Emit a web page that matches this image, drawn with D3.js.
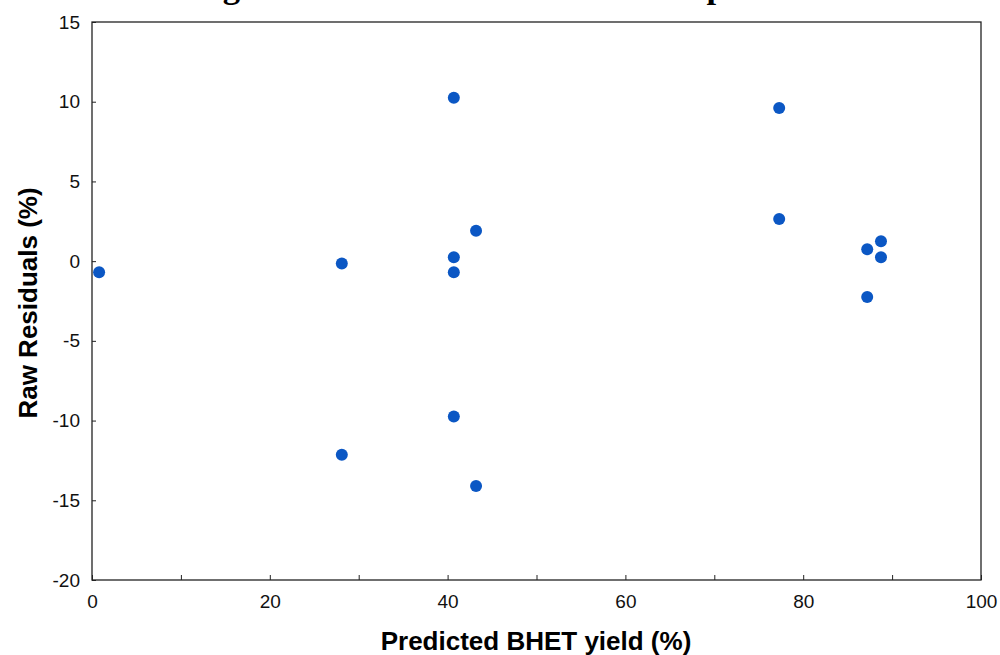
<!DOCTYPE html>
<html>
<head>
<meta charset="utf-8">
<script src="https://cdn.jsdelivr.net/npm/d3@7"></script>
<style>
  html, body { margin: 0; padding: 0; background: #fff; }
  svg { display: block; }
</style>
</head>
<body>
<svg id="chart" width="1000" height="655"></svg>
<script>
// Predicted BHET yield (%) and raw residuals (%) for each run
const predicted = [0.8, 28.1, 28.1, 40.7, 40.7, 40.7, 40.7, 43.2, 43.2, 77.3, 77.3, 87.2, 88.75, 88.75, 87.2];
const residuals = [-0.7, -0.15, -12.15, 10.25, 0.25, -0.7, -9.75, 1.9, -14.1, 9.6, 2.65, 0.75, 1.25, 0.25, -2.25];

const xTicks = [0, 20, 40, 60, 80, 100];
const xMinorTicks = [10, 30, 50, 70, 90];
const yTicks = [-20, -15, -10, -5, 0, 5, 10, 15];

const titleText = "Figure 4. Raw residuals versus the predicted values";
const xTitle = "Predicted BHET yield (%)";
const yTitle = "Raw Residuals (%)";

const svg = d3.select("#chart");
const plotLeft = 92, plotRight = 981, plotTop = 22, plotBottom = 580;

const x = d3.scaleLinear().domain([0, 100]).range([plotLeft, plotRight]);
const y = d3.scaleLinear().domain([-20, 15]).range([plotBottom, plotTop]);

// Title (runs off the top edge of the page; only its descenders show)
svg.append("text")
  .attr("x", 192).attr("y", -2)
  .attr("font-family", "Liberation Serif, Times New Roman, serif")
  .attr("font-weight", "bold")
  .attr("font-size", 34.6)
  .attr("fill", "#000")
  .text(titleText);

// Points
svg.append("g")
  .selectAll("circle")
  .data(predicted.map((p, i) => ({ p, r: residuals[i] })))
  .join("circle")
  .attr("cx", d => x(d.p))
  .attr("cy", d => y(d.r))
  .attr("r", 6)
  .attr("fill", "#0b57c4");

// Axes with inward ticks; labels use a plain hyphen for negatives
const axisFont = "Liberation Sans, Arial, sans-serif";
const plain = d => String(d);

const xAxis = svg.append("g")
  .attr("transform", `translate(0,${plotBottom})`)
  .call(d3.axisBottom(x).tickValues(xTicks).tickFormat(plain).tickSizeInner(-5).tickSizeOuter(0).tickPadding(15));
xAxis.select(".domain").remove();
xAxis.selectAll(".tick line").attr("stroke", "#222");
xAxis.selectAll("text").attr("font-family", axisFont).attr("font-size", 19).attr("fill", "#111");

const xMinor = svg.append("g")
  .attr("transform", `translate(0,${plotBottom})`)
  .call(d3.axisBottom(x).tickValues(xMinorTicks).tickSizeInner(-5).tickSizeOuter(0).tickFormat(""));
xMinor.select(".domain").remove();
xMinor.selectAll(".tick line").attr("stroke", "#222");

const yAxis = svg.append("g")
  .attr("transform", `translate(${plotLeft},0)`)
  .call(d3.axisLeft(y).tickValues(yTicks).tickFormat(plain).tickSizeInner(-4).tickSizeOuter(0).tickPadding(12));
yAxis.select(".domain").remove();
yAxis.selectAll(".tick line").attr("stroke", "#222");
yAxis.selectAll("text").attr("font-family", axisFont).attr("font-size", 19).attr("fill", "#111");

// Plot frame
svg.append("rect")
  .attr("x", plotLeft).attr("y", plotTop)
  .attr("width", plotRight - plotLeft).attr("height", plotBottom - plotTop)
  .attr("fill", "none")
  .attr("stroke", "#222")
  .attr("stroke-width", 1.3);

// Axis titles
svg.append("text")
  .attr("x", 536).attr("y", 650)
  .attr("text-anchor", "middle")
  .attr("font-family", axisFont)
  .attr("font-weight", "bold")
  .attr("font-size", 26)
  .attr("fill", "#000")
  .text(xTitle);

svg.append("text")
  .attr("transform", `translate(37,${(plotTop + plotBottom) / 2 + 2}) rotate(-90)`)
  .attr("text-anchor", "middle")
  .attr("font-family", axisFont)
  .attr("font-weight", "bold")
  .attr("font-size", 26)
  .attr("fill", "#000")
  .text(yTitle);
</script>
</body>
</html>
